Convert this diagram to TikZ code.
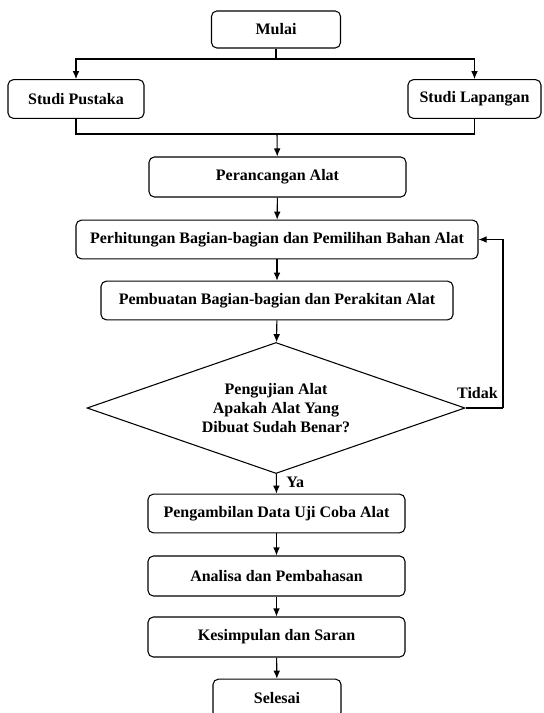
\documentclass[tikz,border=0pt]{standalone}
\usepackage{fontspec}
\setmainfont{Liberation Serif}
\usetikzlibrary{shapes.geometric,arrows.meta}

\begin{document}
\begin{tikzpicture}[
		x=0.75pt, y=-0.75pt,
		every node/.style={font=\bfseries\fontsize{12}{14}\selectfont},
		kotak/.style={rectangle, rounded corners=4pt, draw, line width=0.8pt, minimum height=29pt, inner sep=2pt},
		keputusan/.style={diamond, draw, line width=0.8pt, align=center, inner sep=0pt, shape aspect=2.9},
		teks/.style={inner sep=0pt},
		panah/.style={-{Latex[length=6pt,width=5pt]}, line width=0.8pt},
		garis/.style={line width=0.8pt}
	]
  \useasboundingbox (0, 0) rectangle (543, 713);
  \clip (0, 0) rectangle (543, 713);
  \node (mulai) [kotak, minimum width=96.75pt, minimum height=27.75pt] at (276, 29.5) {Mulai};
  \node (pustaka) [kotak, minimum width=102pt] at (76, 99) {Studi Pustaka};
  \node (lapangan) [kotak, minimum width=99.75pt] at (474.5, 99) {Studi Lapangan};
  \node (rancang) [kotak, minimum width=192.75pt, minimum height=30pt] at (277.5, 177) {Perancangan Alat};
  \node (hitung) [kotak, minimum width=301.5pt] at (277, 239.5) {Perhitungan Bagian-bagian dan Pemilihan Bahan Alat};
  \node (buat) [kotak, minimum width=264pt] at (277, 300.5) {Pembuatan Bagian-bagian dan Perakitan Alat};
  \node (uji) [keputusan, minimum width=283.5pt, minimum height=98.25pt] at (276, 408) {Pengujian Alat\\Apakah Alat Yang\\Dibuat Sudah Benar?};
  \node (ambil) [kotak, minimum width=192.75pt] at (276.5, 513.5) {Pengambilan Data Uji Coba Alat};
  \node (analisa) [kotak, minimum width=192.75pt, minimum height=30pt] at (276.5, 576) {Analisa dan Pembahasan};
  \node (simpul) [kotak, minimum width=192.75pt, minimum height=30pt] at (276.5, 637) {Kesimpulan dan Saran};
  \node (selesai) [kotak, minimum width=96pt] at (277, 698.5) {Selesai};
  \coordinate (pecah) at (276, 59);
  \coordinate (gabung) at (277, 134);
  \coordinate (balik) at (503, 408);
  \node (tidak) [teks, anchor=base east] at (498, 398) {Tidak};
  \node (ya) [teks, anchor=base west] at (286, 487) {Ya};
  \draw [garis] (mulai) -- (pecah);
  \draw [panah] (pecah) -| (pustaka);
  \draw [panah] (pecah) -| (lapangan);
  \draw [garis] (pustaka) |- (gabung);
  \draw [garis] (lapangan) |- (gabung);
  \draw [panah] (gabung) -- (rancang);
  \draw [panah] (rancang) -- (hitung);
  \draw [panah] (hitung) -- (buat);
  \draw [panah] (buat) -- (uji);
  \draw [garis] (uji.east) -- (balik);
  \draw [panah] (balik) |- (hitung.east);
  \draw [panah] (uji) -- (ambil);
  \draw [panah] (ambil) -- (analisa);
  \draw [panah] (analisa) -- (simpul);
  \draw [panah] (simpul) -- (selesai);
\end{tikzpicture}
\end{document}
